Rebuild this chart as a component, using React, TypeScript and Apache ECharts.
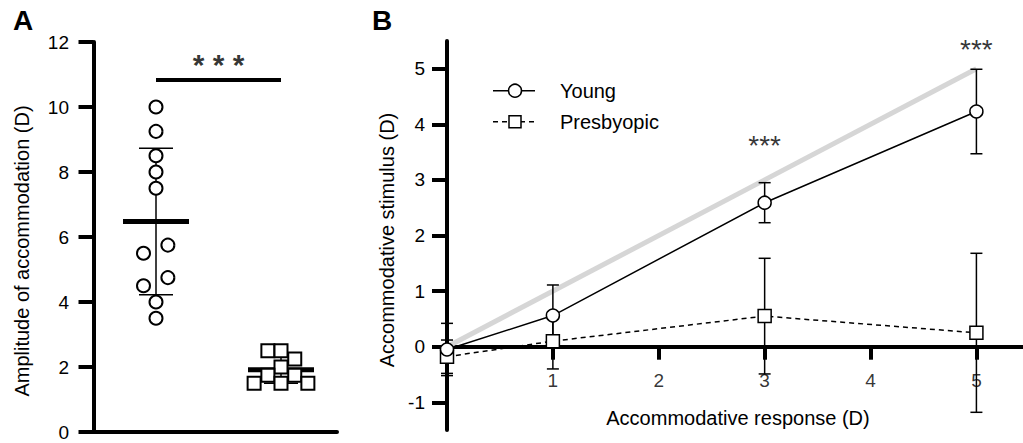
import React, { useEffect, useRef } from 'react';
import * as echarts from 'echarts';

// ---------- Panel A data ----------
const groupPos = [1, 3]; // Young, Presbyopic
const youngAmp = [10, 9.25, 8.5, 8, 7.5, 5.75, 5.5, 4.75, 4.5, 4, 3.5];
const youngJitter = [0, 0, 0, 0, 0, 0.19, -0.2, 0.19, -0.2, 0, 0];
const presbyAmp = [2.5, 2.5, 2.25, 2.0, 1.75, 1.75, 1.5, 1.5, 1.5];
const presbyJitter = [-0.21, 0, 0.22, 0, -0.21, 0.22, -0.43, 0, 0.43];
const sigBarA = [1, 3, 10.83];
const sigStarsA = [2, 11.32];

// ---------- Panel B data ----------
const respX = [0, 1, 3, 5];
const youngMean = [-0.05, 0.56, 2.59, 4.23];
const youngSD = [0.47, 0.55, 0.36, 0.76];
const presbyMean = [-0.18, 0.1, 0.55, 0.25];
const presbySD = [0.3, 0.5, 1.04, 1.43];
const identityLine = [[0, 0], [5, 5]];
const starsB = [[3, 3.61], [5, 5.35]];
const yTicksB = [-1, 0, 1, 2, 3, 4, 5];
const xTicksB = [1, 2, 3, 4, 5];

const FONT = "'Liberation Sans', Arial, Helvetica, sans-serif";

function meanSd(v: number[]) {
  const m = v.reduce((a, b) => a + b, 0) / v.length;
  const s = Math.sqrt(v.reduce((a, b) => a + (b - m) * (b - m), 0) / (v.length - 1));
  return [m, s];
}

export default function App() {
  const ref = useRef<HTMLDivElement>(null);
  useEffect(() => {
    if (!ref.current) return;
    const chart = echarts.init(ref.current, null, { renderer: 'svg' });
    const [ym, ys] = meanSd(youngAmp);
    const [pm, ps] = meanSd(presbyAmp);

    const errBars = (capHalf: number, lw: number) => (params: any, api: any) => {
      const x = api.value(0);
      const m = api.value(1);
      const s = api.value(2);
      const top = api.coord([x, m + s]);
      const bot = api.coord([x, m - s]);
      const st = { stroke: '#000', lineWidth: lw };
      return {
        type: 'group',
        children: [
          { type: 'line', shape: { x1: top[0], y1: top[1], x2: bot[0], y2: bot[1] }, style: st },
          { type: 'line', shape: { x1: top[0] - capHalf, y1: top[1], x2: top[0] + capHalf, y2: top[1] }, style: st },
          { type: 'line', shape: { x1: bot[0] - capHalf, y1: bot[1], x2: bot[0] + capHalf, y2: bot[1] }, style: st },
        ],
      };
    };

    const option: any = {
      animation: false,
      backgroundColor: '#fff',
      textStyle: { fontFamily: FONT, color: '#000' },
      grid: [
        { left: 89, top: 42, width: 248, height: 390, outerBoundsMode: 'none', containLabel: false },
        { left: 447, top: 40.9, width: 576, height: 389.2, outerBoundsMode: 'none', containLabel: false },
      ],
      xAxis: [
        {
          gridIndex: 0, type: 'value', min: -0.072, max: 3.896,
          axisLine: { show: true, lineStyle: { color: '#000', width: 4 } },
          axisTick: { show: false }, axisLabel: { show: false }, splitLine: { show: false },
        },
        {
          gridIndex: 1, type: 'value', min: 0, max: 5.44,
          axisLine: { show: true, onZero: true, lineStyle: { color: '#000', width: 4 } },
          axisTick: { show: true, customValues: xTicksB, length: 13, lineStyle: { color: '#000', width: 4 } },
          axisLabel: { show: false },
          splitLine: { show: false },
        },
      ],
      yAxis: [
        {
          gridIndex: 0, type: 'value', min: 0, max: 12, interval: 2,
          axisLine: { show: true, lineStyle: { color: '#000', width: 4 } },
          axisTick: { show: true, length: 15, lineStyle: { color: '#000', width: 4 } },
          axisLabel: { fontSize: 19, color: '#000', fontFamily: FONT, margin: 20 },
          splitLine: { show: false },
        },
        {
          gridIndex: 1, type: 'value', min: -1.5, max: 5.5,
          axisLine: { show: true, onZero: false, lineStyle: { color: '#000', width: 4 } },
          axisTick: { show: true, customValues: yTicksB, length: 15, lineStyle: { color: '#000', width: 4 } },
          axisLabel: { show: true, customValues: yTicksB, fontSize: 19, color: '#000', fontFamily: FONT, margin: 22 },
          splitLine: { show: false },
        },
      ],
      series: [
        // ---- Panel A ----
        {
          type: 'custom', xAxisIndex: 0, yAxisIndex: 0, z: 2,
          data: [[groupPos[0], ym, ys], [groupPos[1], pm, ps]],
          encode: { x: 0, y: 1 },
          renderItem: (params: any, api: any) => {
            const x = api.value(0);
            const m = api.value(1);
            const s = api.value(2);
            const c = api.coord([x, m]);
            const top = api.coord([x, m + s]);
            const bot = api.coord([x, m - s]);
            const st = { stroke: '#000', lineWidth: 1.5 };
            return {
              type: 'group',
              children: [
                { type: 'line', shape: { x1: top[0], y1: top[1], x2: bot[0], y2: bot[1] }, style: st },
                { type: 'line', shape: { x1: top[0] - 17, y1: top[1], x2: top[0] + 17, y2: top[1] }, style: st },
                { type: 'line', shape: { x1: bot[0] - 17, y1: bot[1], x2: bot[0] + 17, y2: bot[1] }, style: st },
                { type: 'line', shape: { x1: c[0] - 33, y1: c[1], x2: c[0] + 33, y2: c[1] }, style: { stroke: '#000', lineWidth: 5 } },
              ],
            };
          },
        },
        {
          type: 'scatter', xAxisIndex: 0, yAxisIndex: 0, z: 3,
          symbol: 'circle', symbolSize: 13,
          itemStyle: { color: '#fff', borderColor: '#000', borderWidth: 2, opacity: 1 },
          data: youngAmp.map((v, i) => [groupPos[0] + youngJitter[i], v]),
        },
        {
          type: 'scatter', xAxisIndex: 0, yAxisIndex: 0, z: 3,
          symbol: 'rect', symbolSize: 13,
          itemStyle: { color: '#fff', borderColor: '#000', borderWidth: 2, opacity: 1 },
          data: presbyAmp.map((v, i) => [groupPos[1] + presbyJitter[i], v]),
        },
        {
          type: 'line', xAxisIndex: 0, yAxisIndex: 0, z: 2,
          symbol: 'none', lineStyle: { color: '#000', width: 4 },
          data: [[sigBarA[0], sigBarA[2]], [sigBarA[1], sigBarA[2]]],
        },
        {
          type: 'scatter', xAxisIndex: 0, yAxisIndex: 0, symbolSize: 0,
          data: [sigStarsA],
          label: { show: true, position: 'inside', formatter: '* * *', fontSize: 30, fontWeight: 'bold', color: '#000', fontFamily: FONT },
        },
        // ---- Panel B ----
        {
          type: 'line', xAxisIndex: 1, yAxisIndex: 1, z: 1,
          symbol: 'none', lineStyle: { color: '#d6d6d6', width: 5 },
          data: identityLine,
        },
        {
          type: 'custom', xAxisIndex: 1, yAxisIndex: 1, z: 2,
          data: respX.map((x, i) => [x, presbyMean[i], presbySD[i]]),
          encode: { x: 0, y: 1 },
          renderItem: errBars(6, 1.5),
        },
        {
          type: 'custom', xAxisIndex: 1, yAxisIndex: 1, z: 2,
          data: respX.map((x, i) => [x, youngMean[i], youngSD[i]]),
          encode: { x: 0, y: 1 },
          renderItem: errBars(6, 1.5),
        },
        {
          name: 'Presbyopic', type: 'line', xAxisIndex: 1, yAxisIndex: 1, z: 3,
          symbol: 'rect', symbolSize: 13, showAllSymbol: true,
          lineStyle: { color: '#000', width: 1.5, type: [5, 4] },
          itemStyle: { color: '#fff', borderColor: '#000', borderWidth: 1.5 },
          data: respX.map((x, i) => [x, presbyMean[i]]),
        },
        {
          name: 'Young', type: 'line', xAxisIndex: 1, yAxisIndex: 1, z: 4,
          symbol: 'circle', symbolSize: 13, showAllSymbol: true,
          lineStyle: { color: '#000', width: 1.5 },
          itemStyle: { color: '#fff', borderColor: '#000', borderWidth: 1.5 },
          data: respX.map((x, i) => [x, youngMean[i]]),
        },
        {
          type: 'scatter', xAxisIndex: 1, yAxisIndex: 1, symbolSize: 0, z: 5,
          data: starsB,
          label: { show: true, position: 'inside', formatter: '***', fontSize: 28, color: '#000', fontFamily: FONT },
        },
        {
          // x tick labels of panel B, sitting under the zero line
          type: 'scatter', xAxisIndex: 1, yAxisIndex: 1, symbolSize: 0, z: 5, silent: true,
          data: xTicksB.map((x) => [x, 0]),
          label: {
            show: true, position: 'bottom', distance: 24,
            formatter: (p: any) => String(p.value[0]),
            fontSize: 19, color: '#000', fontFamily: FONT,
          },
        },
      ],
      graphic: [
        { type: 'text', left: 13, top: 6, style: { text: 'A', fontSize: 28, fontWeight: 'bold', fontFamily: FONT, fill: '#000' } },
        { type: 'text', left: 372, top: 6, style: { text: 'B', fontSize: 28, fontWeight: 'bold', fontFamily: FONT, fill: '#000' } },
        {
          type: 'text', x: 22, y: 251, rotation: Math.PI / 2,
          style: { text: 'Amplitude of accommodation (D)', fontSize: 20, fontFamily: FONT, fill: '#000', align: 'center', verticalAlign: 'middle' },
        },
        {
          type: 'text', x: 387, y: 240, rotation: Math.PI / 2,
          style: { text: 'Accommodative stimulus (D)', fontSize: 20, fontFamily: FONT, fill: '#000', align: 'center', verticalAlign: 'middle' },
        },
        {
          type: 'text', x: 738, y: 418,
          style: { text: 'Accommodative response (D)', fontSize: 20, fontFamily: FONT, fill: '#000', align: 'center', verticalAlign: 'middle' },
        },
        // legend
        { type: 'line', shape: { x1: 493, y1: 90.7, x2: 535, y2: 90.7 }, style: { stroke: '#000', lineWidth: 1.5 } },
        { type: 'circle', shape: { cx: 515, cy: 90.7, r: 6.5 }, style: { fill: '#fff', stroke: '#000', lineWidth: 1.5 } },
        { type: 'text', x: 560, y: 90.7, style: { text: 'Young', fontSize: 20, fontFamily: FONT, fill: '#000', verticalAlign: 'middle' } },
        { type: 'line', shape: { x1: 493, y1: 121.7, x2: 535, y2: 121.7 }, style: { stroke: '#000', lineWidth: 1.5, lineDash: [5, 4] } },
        { type: 'rect', shape: { x: 509, y: 115.7, width: 12, height: 12 }, style: { fill: '#fff', stroke: '#000', lineWidth: 1.5 } },
        { type: 'text', x: 560, y: 121.7, style: { text: 'Presbyopic', fontSize: 20, fontFamily: FONT, fill: '#000', verticalAlign: 'middle' } },
      ],
    };
    chart.setOption(option);
    return () => chart.dispose();
  }, []);
  return <div ref={ref} style={{ position: 'absolute', left: 0, top: 0, width: 1023, height: 443 }} />;
}
